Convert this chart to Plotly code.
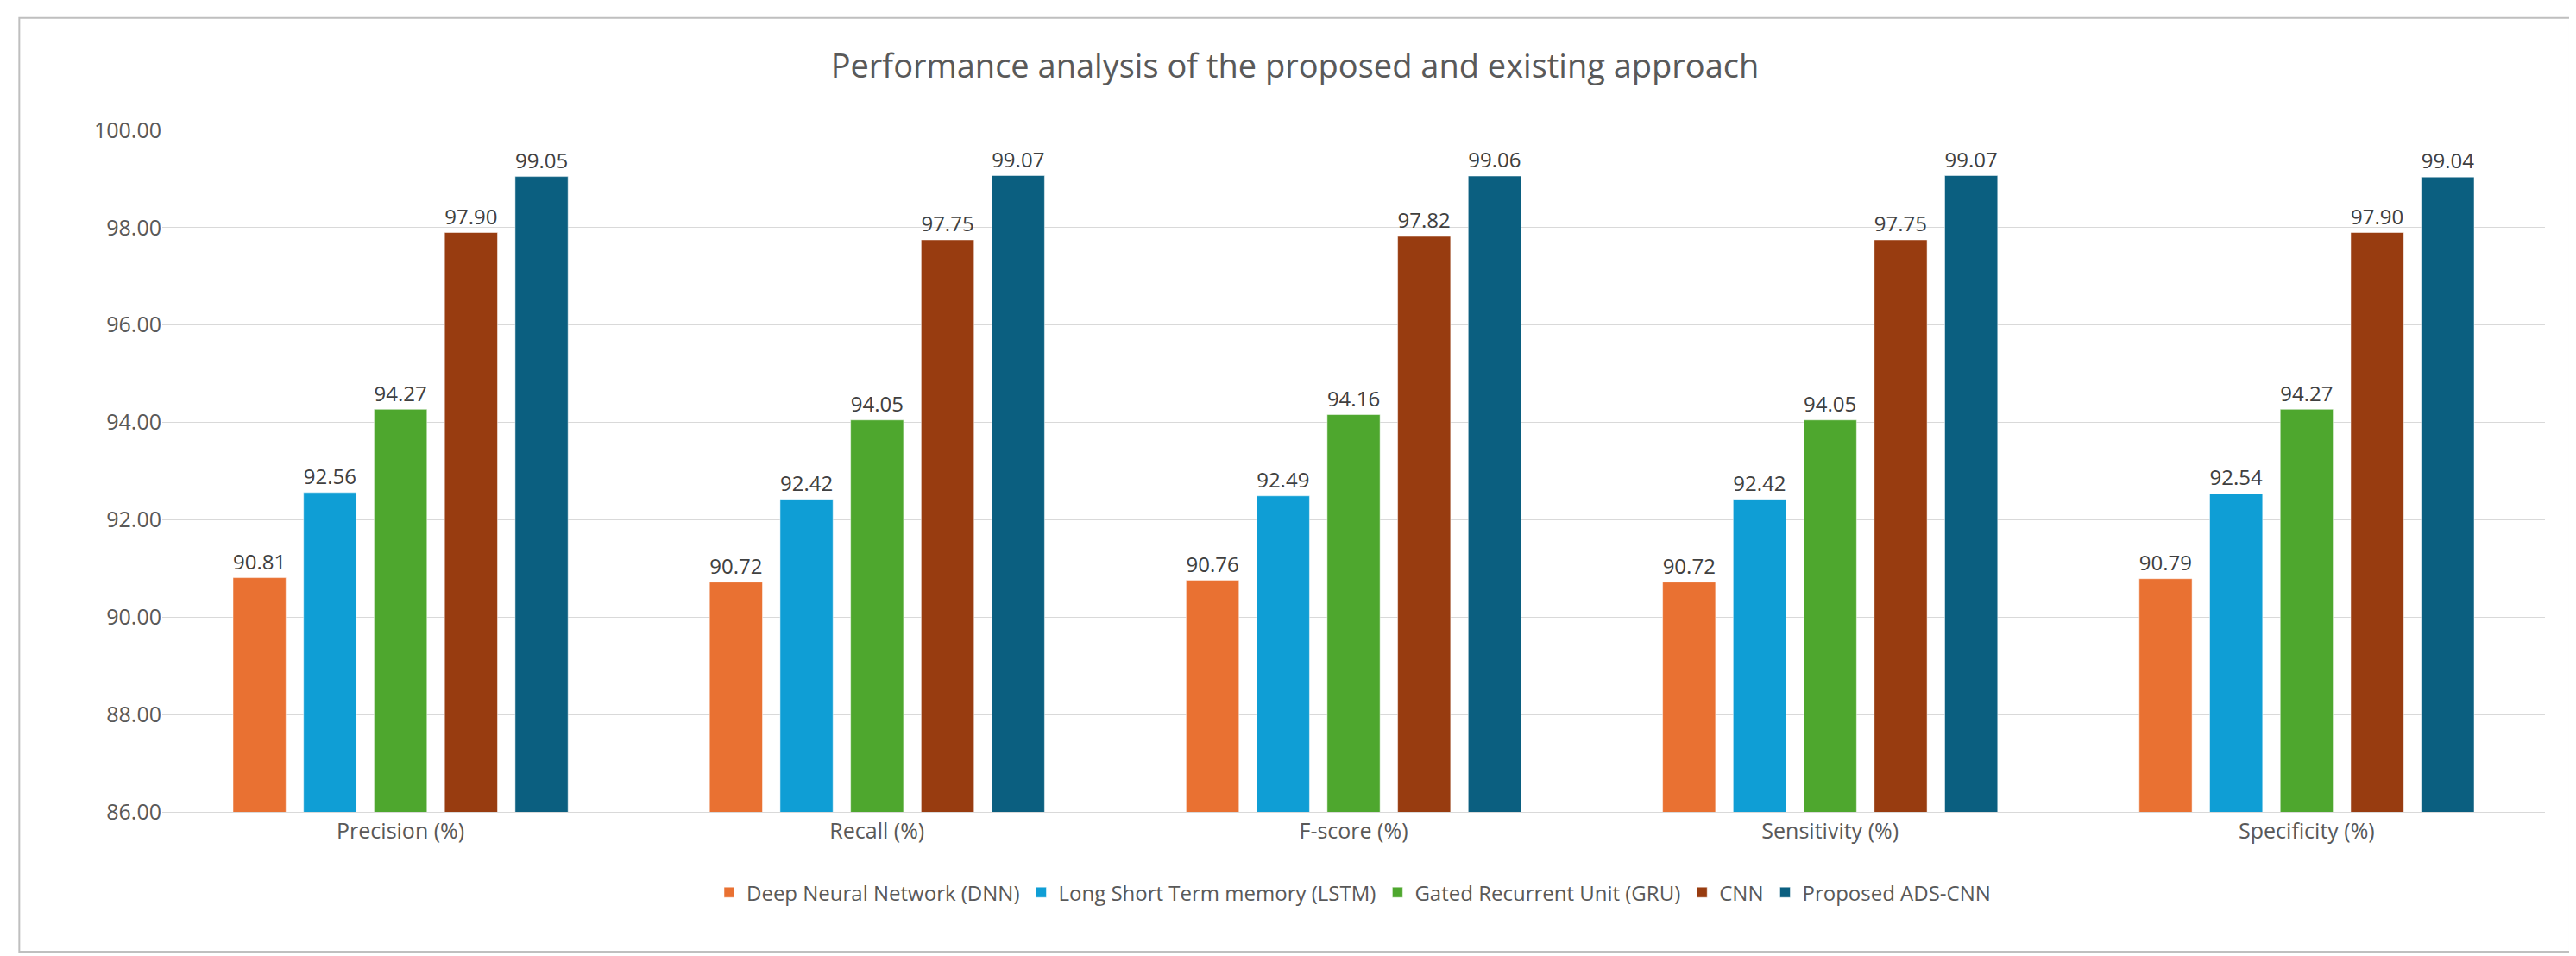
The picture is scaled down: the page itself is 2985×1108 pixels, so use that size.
import plotly.graph_objects as go

categories = ['Precision (%)', 'Recall (%)', 'F-score (%)', 'Sensitivity (%)', 'Specificity (%)']
dnn = [90.81, 90.72, 90.76, 90.72, 90.79]
lstm = [92.56, 92.42, 92.49, 92.42, 92.54]
gru = [94.27, 94.05, 94.16, 94.05, 94.27]
cnn = [97.90, 97.75, 97.82, 97.75, 97.90]
ads_cnn = [99.05, 99.07, 99.06, 99.07, 99.04]

series = [
    ('Deep Neural Network (DNN)', dnn, '#E97132'),
    ('Long Short Term memory (LSTM)', lstm, '#0F9ED5'),
    ('Gated Recurrent Unit (GRU)', gru, '#4EA72E'),
    ('CNN', cnn, '#983C10'),
    ('Proposed ADS-CNN', ads_cnn, '#0B5F80'),
]

fig = go.Figure()
for name, vals, color in series:
    fig.add_trace(go.Bar(
        name=name, x=categories, y=vals, marker_color=color,
        text=[f'{v:.2f}' for v in vals], textposition='outside',
        textfont=dict(size=25, color='#404040'), cliponaxis=False,
    ))

fig.update_layout(
    width=2985, height=1108,
    barmode='group', bargap=0.26, bargroupgap=0.25,
    template='plotly_white',
    font=dict(family='Open Sans, Liberation Sans, sans-serif', color='#595959'),
    title=dict(text='Performance analysis of the proposed and existing approach',
               x=0.5, y=0.95, font=dict(size=38, color='#595959')),
    margin=dict(l=180, r=44, t=143, b=175),
    legend=dict(orientation='h', x=0.5, xanchor='center', y=-0.09, yanchor='top',
                font=dict(size=24, color='#595959')),
    yaxis=dict(range=[86, 100], tickvals=[86 + i * 2 for i in range(8)],
               tickformat='.2f', gridcolor='#D9D9D9', tickfont=dict(size=25),
               zeroline=False),
    xaxis=dict(tickfont=dict(size=25), showline=True, linecolor='#D9D9D9'),
    shapes=[dict(type='rect', xref='paper', yref='paper', x0=-0.06, x1=1.0105,
                 y0=-0.205, y1=1.165, line=dict(color='#BFBFBF', width=2))],
)

fig.write_html('out.html')
